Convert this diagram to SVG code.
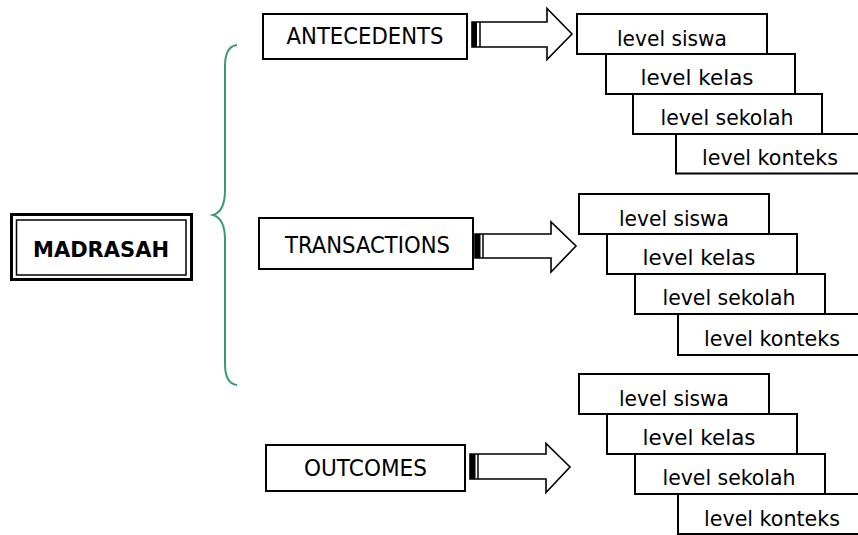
<svg xmlns="http://www.w3.org/2000/svg" width="858" height="535" viewBox="0 0 858 535">
<style>
.box{fill:#fff;stroke:#000;stroke-width:2}
.lbl{font-family:"DejaVu Sans","Liberation Sans",sans-serif;font-size:22px;fill:#000;text-anchor:middle}
.cap{font-size:22.5px}
.bold{font-weight:bold;font-size:22px}
.arrow{fill:#fff;stroke:#000;stroke-width:1.6;stroke-linejoin:miter}
.bar{fill:#000}
.brace{fill:none;stroke:#3a9a6c;stroke-width:2}
</style>
<rect width="858" height="535" fill="#fff"/>

<g id="madrasah">
<rect x="11.5" y="214.5" width="180" height="65" fill="#fff" stroke="#000" stroke-width="3"/>
<rect x="16.5" y="220" width="169.5" height="55" fill="none" stroke="#000" stroke-width="1.5"/>
<text class="lbl bold" x="101" y="257" textLength="136" lengthAdjust="spacingAndGlyphs">MADRASAH</text>
</g>

<g id="connectors">
<path class="brace" d="M237,45 C229,46 225,54 225,66 L225,190 C225,205 220,213 213,215 C220,217 225,225 225,240 L225,364 C225,376 229,384 237,385"/>
<g id="arrow1">
<path class="arrow" d="M472,22 L547,22 L547,8.5 L572,34 L547,59.5 L547,47 L472,47 Z"/>
<rect class="bar" x="472" y="22" width="5" height="25"/>
<line x1="480" y1="22" x2="480" y2="47" stroke="#000" stroke-width="1.5"/>
</g>
<g id="arrow2">
<path class="arrow" d="M475,234 L551,234 L551,222 L576,246 L551,272 L551,258 L475,258 Z"/>
<rect class="bar" x="475" y="234" width="5.5" height="24"/>
<line x1="483" y1="234" x2="483" y2="258" stroke="#000" stroke-width="1.5"/>
</g>
<g id="arrow3">
<path class="arrow" d="M470,454 L546,454 L546,443.5 L570,467 L546,492.5 L546,479 L470,479 Z"/>
<rect class="bar" x="470" y="454" width="5.5" height="25"/>
<line x1="478" y1="454" x2="478" y2="479" stroke="#000" stroke-width="1.5"/>
</g>
</g>

<g id="antecedents">
<rect class="box" x="263" y="14" width="204" height="45"/>
<text class="lbl cap" x="365" y="44" textLength="157" lengthAdjust="spacingAndGlyphs">ANTECEDENTS</text>
</g>
<g id="transactions">
<rect class="box" x="259" y="218" width="214" height="51"/>
<text class="lbl cap" x="367.5" y="253" textLength="165" lengthAdjust="spacingAndGlyphs">TRANSACTIONS</text>
</g>
<g id="outcomes">
<rect class="box" x="266" y="445" width="199" height="46"/>
<text class="lbl cap" x="365.5" y="476" textLength="123" lengthAdjust="spacingAndGlyphs">OUTCOMES</text>
</g>

<g id="a-siswa"><rect class="box" x="577" y="14" width="190" height="40"/><text class="lbl" x="672" y="46" textLength="110" lengthAdjust="spacingAndGlyphs">level siswa</text></g>
<g id="a-kelas"><rect class="box" x="606" y="54" width="189" height="40"/><text class="lbl" x="697" y="85" textLength="113" lengthAdjust="spacingAndGlyphs">level kelas</text></g>
<g id="a-sekolah"><rect class="box" x="633" y="94" width="189" height="40"/><text class="lbl" x="727" y="125" textLength="133" lengthAdjust="spacingAndGlyphs">level sekolah</text></g>
<g id="a-konteks"><rect class="box" x="676" y="134" width="190" height="39.5"/><text class="lbl" x="770" y="165" textLength="136" lengthAdjust="spacingAndGlyphs">level konteks</text></g>

<g id="t-siswa"><rect class="box" x="579" y="194" width="190" height="40"/><text class="lbl" x="674" y="226" textLength="110" lengthAdjust="spacingAndGlyphs">level siswa</text></g>
<g id="t-kelas"><rect class="box" x="607" y="234" width="190" height="40"/><text class="lbl" x="699" y="265" textLength="113" lengthAdjust="spacingAndGlyphs">level kelas</text></g>
<g id="t-sekolah"><rect class="box" x="635" y="274" width="190" height="40"/><text class="lbl" x="729" y="305" textLength="133" lengthAdjust="spacingAndGlyphs">level sekolah</text></g>
<g id="t-konteks"><rect class="box" x="678" y="314" width="190" height="41"/><text class="lbl" x="772" y="346" textLength="136" lengthAdjust="spacingAndGlyphs">level konteks</text></g>

<g id="o-siswa"><rect class="box" x="579" y="374" width="190" height="40"/><text class="lbl" x="674" y="406" textLength="110" lengthAdjust="spacingAndGlyphs">level siswa</text></g>
<g id="o-kelas"><rect class="box" x="607" y="414" width="190" height="40"/><text class="lbl" x="699" y="445" textLength="113" lengthAdjust="spacingAndGlyphs">level kelas</text></g>
<g id="o-sekolah"><rect class="box" x="635" y="454" width="190" height="40"/><text class="lbl" x="729" y="485" textLength="133" lengthAdjust="spacingAndGlyphs">level sekolah</text></g>
<g id="o-konteks"><rect class="box" x="678" y="494" width="190" height="40"/><text class="lbl" x="772" y="526" textLength="136" lengthAdjust="spacingAndGlyphs">level konteks</text></g>
</svg>
